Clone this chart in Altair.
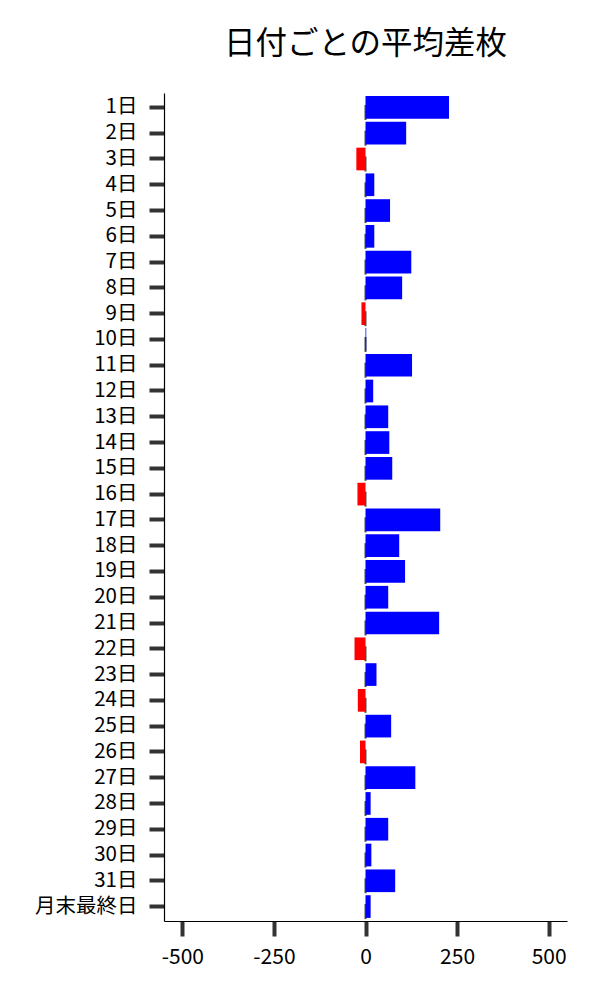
import altair as alt
import pandas as pd

days = [f"{i}日" for i in range(1, 32)] + ["月末最終日"]
values = [228, 111, -25, 24, 67, 24, 125, 100, -11, 2, 127, 21, 62, 65, 73, -22,
          204, 92, 108, 62, 201, -30, 30, -21, 70, -15, 136, 14, 62, 16, 81, 14]
x_ticks = [-500, -250, 0, 250, 500]

df = pd.DataFrame({"day": days, "value": values})
df["color"] = ["#0000FF" if v >= 0 else "#FF0000" for v in values]

FONT = "Noto Sans CJK JP"

y_enc = alt.Y("day:N", sort=days, title=None,
              scale=alt.Scale(paddingInner=0.12, paddingOuter=0.12),
              axis=alt.Axis(labelFontSize=20.5, labelFont=FONT, labelColor="black",
                            tickSize=15, tickWidth=4, tickColor="#333333",
                            domainColor="black", domainWidth=1.2, labelPadding=12,
                            grid=False))

x_scale = alt.Scale(domain=[-550, 550], nice=False, zero=False)

bars = alt.Chart(df).mark_bar().encode(
    x=alt.X("value:Q", scale=x_scale, title=None,
            axis=alt.Axis(values=x_ticks, labelExpr="'' + datum.value",
                          labelFontSize=21, labelFont=FONT, labelColor="black",
                          tickSize=15, tickWidth=4, tickColor="#333333",
                          domainColor="black", domainWidth=1.2, labelPadding=10,
                          grid=False)),
    y=y_enc,
    color=alt.Color("color:N", scale=None),
)

zero_ticks = alt.Chart(df).mark_tick(color="black", thickness=2, size=15, yOffset=5).encode(
    x=alt.datum(0, scale=x_scale),
    y=alt.Y("day:N", sort=days),
)

chart = alt.layer(zero_ticks, bars).properties(
    width=403, height=828,
    title=alt.TitleParams("日付ごとの平均差枚", font=FONT, fontSize=31.5,
                          fontWeight="normal", color="black", anchor="middle", offset=33),
    padding={"left": 26, "top": 20, "right": 5, "bottom": 5},
).configure_view(stroke=None)

chart.save("out.html", embed_options={"renderer": "svg", "actions": False})
